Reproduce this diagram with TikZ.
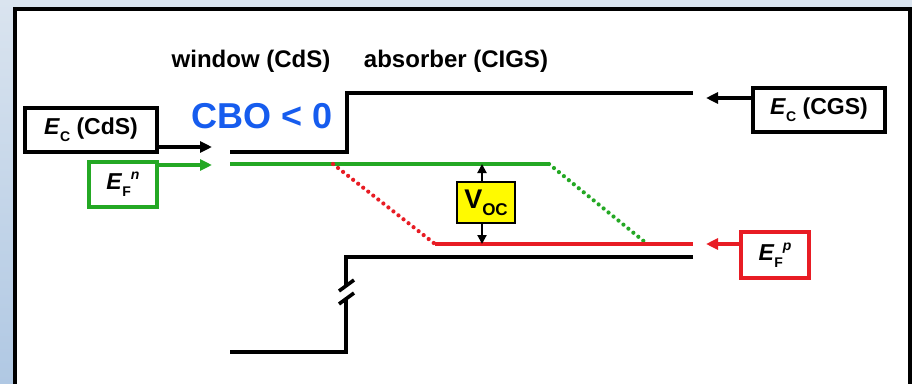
\documentclass[tikz,border=0pt]{standalone}
\usepackage{fontspec}
\setmainfont{Liberation Sans}
\usetikzlibrary{arrows.meta}
\definecolor{bgtop}{RGB}{218,228,239}
\definecolor{bgbot}{RGB}{176,200,227}
\definecolor{cbo}{RGB}{22,92,238}
\definecolor{grn}{RGB}{36,168,36}
\definecolor{rd}{RGB}{232,28,36}
\definecolor{yel}{RGB}{255,250,0}
\newcommand{\mylo}[1]{\raisebox{-0.3em}{\fontsize{14}{14}\selectfont #1}}
\newcommand{\myhi}[1]{\raisebox{0.45em}{\fontsize{14}{14}\selectfont\itshape #1}}
\begin{document}
\begin{tikzpicture}[x=1pt,y=-1pt,font=\bfseries,
  box/.style={draw, line width=3.4pt, fill=white, inner sep=0pt, font=\bfseries\fontsize{23}{25}\selectfont},
  band/.style={line width=4pt, line cap=butt, line join=miter},
  dots/.style={line width=4.2pt, line cap=round, dash pattern=on 0pt off 6.4pt},
  arr/.style={line width=3.4pt, -{Triangle[length=12pt,width=11pt]}},
  varr/.style={line width=2pt, -{Triangle[length=9pt,width=9pt]}},
  head/.style={anchor=base, font=\bfseries\fontsize{24}{26}\selectfont}]
\useasboundingbox (0,0) rectangle (912,383);
\clip (0,0) rectangle (912,383);
\shade[top color=bgtop, bottom color=bgbot] (0,0) rectangle (912,383);
\draw[line width=3.4pt, fill=white] (15,9) rectangle (910,400);

% headings
\node[head] (win) at (251,67) {window (CdS)};
\node[head] (abs) at (456,67) {absorber (CIGS)};
\node[anchor=base, text=cbo, font=\bfseries\fontsize{36}{38}\selectfont] (cbo) at (262,128) {CBO < 0};

% label boxes
\node[box, minimum width=132pt, minimum height=44pt] (ecd) at (91,130) {\textit{E}\mylo{C} (CdS)};
\node[box, draw=grn, minimum width=68pt, minimum height=45pt] (efn) at (123,184.5) {\textit{E}\mylo{F}\myhi{n}};
\node[box, minimum width=132pt, minimum height=44pt] (ecg) at (819,110) {\textit{E}\mylo{C} (CGS)};
\node[box, draw=rd, minimum width=68pt, minimum height=46pt] (efp) at (775,255) {\textit{E}\mylo{F}\myhi{p}};

% band lines
\coordinate (cb0) at (230,152);
\coordinate (cb1) at (347,152);
\coordinate (cb2) at (347,93);
\coordinate (cb3) at (693,93);
\draw[band] (cb0) -- (cb1) -- (cb2) -- (cb3);

\coordinate (g0) at (230,164);
\coordinate (g1) at (549,164);
\coordinate (g2) at (646,243);
\draw[band, grn] (g0) -- (g1);
\draw[dots, grn] (g1) -- (g2);

\coordinate (r0) at (333,164);
\coordinate (r1) at (435,244);
\coordinate (r2) at (693,244);
\draw[dots, rd] (r0) -- (r1);
\draw[band, rd] (r1) -- (r2);

\coordinate (v0) at (693,257);
\coordinate (v1) at (346,257);
\coordinate (v2) at (346,287);
\coordinate (v3) at (346,299);
\coordinate (v4) at (346,352);
\coordinate (v5) at (230,352);
\draw[band] (v0) -- (v1) -- (v2);
\draw[band] (v3) -- (v4) -- (v5);
\draw[line width=3.6pt] (339,291) -- (354,280);
\draw[line width=3.6pt] (339,304) -- (354,293);

% label arrows
\coordinate (t1) at (212,147);
\coordinate (t2) at (212,165);
\coordinate (t3) at (706,98);
\coordinate (t4) at (706,244);
\draw[arr] (ecd.east |- t1) -- (t1);
\draw[arr, grn] (efn.east |- t2) -- (t2);
\draw[arr] (ecg.west |- t3) -- (t3);
\draw[arr, rd] (efp.west |- t4) -- (t4);

% Voc
\node[draw, line width=2.6pt, fill=yel, minimum width=58pt, minimum height=41pt, inner sep=0pt,
  font=\bfseries\fontsize{27}{28}\selectfont] (voc) at (486,202.5) {V\raisebox{-0.25em}{\fontsize{17}{17}\selectfont OC}};
\coordinate (vu) at (482,164);
\coordinate (vd) at (482,244);
\draw[varr] (voc.north -| vu) -- (vu);
\draw[varr] (voc.south -| vd) -- (vd);
\end{tikzpicture}
\end{document}
